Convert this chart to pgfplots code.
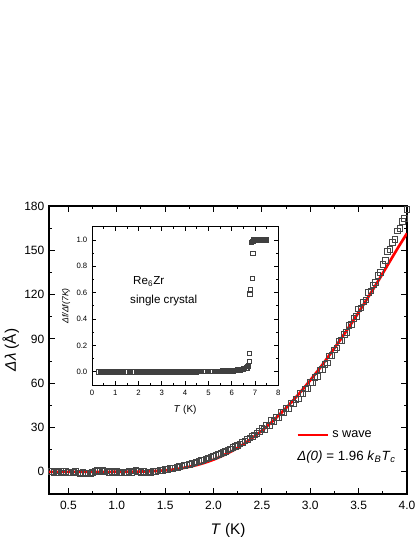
\documentclass[border=0pt]{standalone}
\usepackage{fontspec}
\setmainfont{Liberation Sans}
\usepackage{pgfplots}
\pgfplotsset{compat=1.18}

\begin{document}
\begin{tikzpicture}
\path[use as bounding box] (-36.75pt,-32.25pt) rectangle (274.5pt,370.5pt);
% main panel
\begin{axis}[at={(0,0)}, anchor=south west,
    width=268.5pt, height=216pt, scale only axis,
    xmin=0.3, xmax=4.0, ymin=-15, ymax=180,
    xtick={0.5,1.0,1.5,2.0,2.5,3.0,3.5,4.0}, minor x tick num=1,
    ytick={0,30,60,90,120,150,180}, minor y tick num=1,
    tick align=inside, major tick length=4.5pt, minor tick length=2.5pt,
    axis line style={line width=0.8pt}, every tick/.style={line width=0.7pt, black},
    /pgf/number format/assume math mode=true,
    ticklabel style={font=\fontsize{9}{10}\selectfont},
    xticklabel style={yshift=-2pt, /pgf/number format/.cd, fixed, fixed zerofill, precision=1},
    xlabel={\textit{T} (K)}, ylabel={\textit{Δλ} (Å)},
    label style={font=\fontsize{11.5}{13}\selectfont},
    xlabel style={yshift=-3pt}, ylabel style={yshift=-3pt},
    legend style={at={(0.69,0.205)}, anchor=west, draw=none, fill=none,
        inner sep=0pt, font=\fontsize{9.5}{11}\selectfont},
    legend image code/.code={\draw[#1] (0pt,0pt) -- (23pt,0pt);},
    legend cell align=left]
\addplot[only marks, mark=square, mark size=2.1pt, draw=black!72, mark options={line width=0.6pt, fill=none}, forget plot]
coordinates {
(0.325,0.3) (0.350,-0.4) (0.375,0.6) (0.400,-0.2) (0.425,0.1) (0.450,-0.6) (0.475,0.4) (0.500,-0.3)
(0.525,-0.8) (0.550,-0.2) (0.575,0.5) (0.600,-0.7) (0.625,-1.0) (0.650,-0.4) (0.675,-1.2) (0.700,-0.6)
(0.725,-0.9) (0.750,-0.2) (0.775,0.3) (0.800,0.9) (0.825,0.5) (0.850,1.1) (0.875,0.2) (0.900,0.6)
(0.925,-0.3) (0.950,0.2) (0.975,-0.5) (1.000,0.1) (1.025,-0.6) (1.050,-0.2) (1.075,-0.8) (1.100,-0.3)
(1.125,0.2) (1.150,-0.5) (1.175,0.6) (1.200,0.9) (1.225,0.3) (1.250,-0.4) (1.275,0.1) (1.300,-0.6)
(1.325,0.0) (1.350,-0.3) (1.375,0.4) (1.400,0.3) (1.425,0.6) (1.450,0.9) (1.475,1.1) (1.500,1.6)
(1.525,1.8) (1.550,2.2) (1.575,2.4) (1.600,2.8) (1.625,3.1) (1.650,3.5) (1.675,3.9) (1.700,4.3)
(1.725,4.7) (1.750,5.2) (1.775,5.6) (1.800,6.1) (1.825,6.6) (1.850,7.2) (1.875,7.7) (1.900,8.2)
(1.925,8.8) (1.950,9.4) (1.975,10.0) (2.000,10.6) (2.025,11.3) (2.050,11.9) (2.075,12.6) (2.100,13.3)
(2.125,14.0) (2.150,14.8) (2.175,15.6) (2.200,16.4) (2.225,17.2) (2.250,18.1) (2.275,19.0) (2.300,19.9)
(2.325,20.9) (2.350,21.8) (2.375,22.9) (2.400,23.9) (2.425,25.0) (2.450,26.1) (2.475,27.2) (2.500,29.6)
(2.525,28.9) (2.550,31.3) (2.575,31.2) (2.600,34.8) (2.625,34.2) (2.650,36.8) (2.675,36.9) (2.700,40.6)
(2.725,40.1) (2.750,42.8) (2.775,42.9) (2.800,46.7) (2.825,46.3) (2.850,49.1) (2.875,49.4) (2.900,53.3)
(2.925,53.1) (2.950,56.1) (2.975,56.6) (3.000,60.7) (3.025,60.7) (3.050,64.0) (3.075,64.7) (3.100,69.0)
(3.125,69.3) (3.150,72.8) (3.175,73.8) (3.200,78.4) (3.225,78.9) (3.250,82.6) (3.275,83.8) (3.300,88.6)
(3.325,89.2) (3.350,93.0) (3.375,94.3) (3.400,99.2) (3.425,99.9) (3.450,103.8) (3.475,105.2) (3.500,110.2)
(3.525,111.0) (3.550,115.0) (3.575,116.5) (3.600,121.6) (3.625,122.5) (3.650,126.6) (3.675,128.1) (3.700,133.2)
(3.725,135.2) (3.750,140.4) (3.775,143.0) (3.800,149.2) (3.825,150.7) (3.850,155.4) (3.875,157.5) (3.900,163.2)
(3.925,164.8) (3.950,169.6) (3.975,171.8) (4.000,177.7)
};
\addplot[red, line width=2pt, smooth] coordinates {
(0.3,0) (0.6,0) (0.9,0) (1.0,0.02) (1.1,0.05) (1.2,0.13) (1.3,0.29) (1.4,0.57) (1.5,1.04)
(1.6,1.75) (1.7,2.77) (1.8,4.16) (1.9,5.98) (2.0,8.27) (2.1,11.08) (2.2,14.4) (2.3,18.3)
(2.4,22.9) (2.5,27.9) (2.6,33.6) (2.7,39.9) (2.8,46.7) (2.9,54.1) (3.0,62.0) (3.1,70.3)
(3.2,79.2) (3.3,88.4) (3.4,98.0) (3.5,108.0) (3.6,118.4) (3.7,129.0) (3.8,140.0) (3.9,151.0) (4.0,161.5)
};
\addlegendentry{s wave}
\node[anchor=west, font=\fontsize{10}{12}\selectfont, inner sep=0pt] at (rel axis cs:0.693,0.128)
  {\textit{Δ(0)} = 1.96 \textit{k}\textsubscript{\textit{B}}\textit{T}\textsubscript{\textit{c}}};
\end{axis}
% inset
\begin{axis}[at={(32.25pt,81.75pt)}, anchor=south west,
    width=139.7pt, height=118.7pt, scale only axis,
    xmin=0, xmax=8, ymin=-0.1, ymax=1.1,
    xtick={0,1,...,8}, minor x tick num=1,
    ytick={0,0.2,0.4,0.6,0.8,1.0}, minor y tick num=1,
    tick align=inside, major tick length=3pt, minor tick length=1.6pt,
    axis line style={line width=0.7pt}, every tick/.style={line width=0.6pt, black},
    /pgf/number format/assume math mode=true,
    yticklabel style={/pgf/number format/.cd, fixed, fixed zerofill, precision=1},
    ticklabel style={font=\fontsize{5.8}{7}\selectfont},
    xlabel={\textit{T} (K)}, ylabel={\textit{Δf/Δf(7K)}},
    xlabel style={font=\fontsize{7.5}{9}\selectfont, yshift=-1pt},
    ylabel style={font=\fontsize{6.5}{8}\selectfont, yshift=-2pt}]
\addplot[only marks, mark=square, mark size=1.7pt, draw=black!75, mark options={line width=0.5pt, fill=none}]
coordinates {
(0.30,0) (0.35,0) (0.40,0) (0.45,0) (0.50,0) (0.55,0) (0.60,0) (0.65,0) (0.70,0) (0.75,0)
(0.80,0) (0.85,0) (0.90,0) (0.95,0) (1.00,0) (1.05,0) (1.10,0) (1.15,0) (1.20,0) (1.25,0)
(1.30,0) (1.35,0) (1.40,0) (1.45,0) (1.50,0) (1.55,0) (1.60,0) (1.65,0) (1.70,0) (1.75,0)
(1.80,0) (1.85,0) (1.90,0) (1.95,0) (2.00,0) (2.05,0) (2.10,0) (2.15,0) (2.20,0) (2.25,0)
(2.30,0) (2.35,0) (2.40,0) (2.45,0) (2.50,0) (2.55,0) (2.60,0) (2.65,0) (2.70,0) (2.75,0)
(2.80,0) (2.85,0) (2.90,0) (2.95,0) (3.00,0) (3.05,0) (3.10,0) (3.15,0) (3.20,0) (3.25,0)
(3.30,0) (3.35,0) (3.40,0) (3.45,0) (3.50,0) (3.55,0) (3.60,0) (3.65,0) (3.70,0) (3.75,0)
(3.80,0) (3.85,0) (3.90,0) (3.95,0) (4.00,0) (4.05,0) (4.10,0) (4.15,0) (4.20,0) (4.25,0)
(4.30,0) (4.35,0) (4.40,0) (4.45,0.001) (4.50,0.002) (4.55,0.002) (4.60,0.002) (4.65,0.002)
(4.70,0.002) (4.75,0.002) (4.80,0.002) (4.85,0.002) (4.90,0.002) (4.95,0.002) (5.00,0.002)
(5.05,0.003) (5.10,0.004) (5.15,0.004) (5.20,0.004) (5.25,0.004) (5.30,0.004) (5.35,0.004)
(5.40,0.004) (5.45,0.004) (5.50,0.004) (5.55,0.005) (5.60,0.006) (5.65,0.006) (5.70,0.006)
(5.75,0.006) (5.80,0.006) (5.85,0.006) (5.90,0.007) (5.95,0.007) (6.00,0.008) (6.05,0.009)
(6.10,0.010) (6.15,0.011) (6.20,0.012) (6.25,0.013) (6.30,0.015) (6.35,0.016) (6.40,0.018)
(6.45,0.020) (6.50,0.022) (6.55,0.025) (6.60,0.028) (6.65,0.032) (6.70,0.040) (6.72,0.050)
(6.76,0.08) (6.75,0.14) (6.78,0.59) (6.8,0.62) (6.88,0.71) (6.9,0.90) (6.84,0.98) (6.88,0.99)
(6.92,0.995) (6.96,1.0) (7.0,1.0) (7.04,1.0) (7.08,1.0) (7.12,1.0) (7.16,1.0) (7.2,1.0)
(7.24,1.0) (7.28,1.0) (7.32,1.0) (7.36,1.0) (7.4,1.0) (7.44,1.0) (7.48,1.0)
};
\node[anchor=west, font=\fontsize{8.7}{10}\selectfont, inner sep=0pt] at (axis cs:1.76,0.686) {Re\textsubscript{6}Zr};
\node[anchor=west, font=\fontsize{8.7}{10}\selectfont, inner sep=0pt] at (axis cs:1.63,0.544) {single crystal};
\end{axis}
\end{tikzpicture}
\end{document}
